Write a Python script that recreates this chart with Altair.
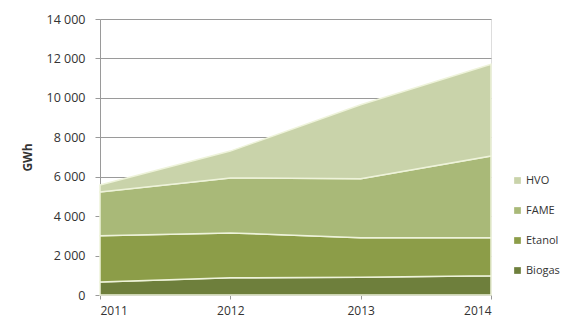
import altair as alt
import pandas as pd

years = [2011, 2012, 2013, 2014]
series = ["Biogas", "Etanol", "FAME", "HVO"]
biogas = [660, 870, 900, 980]
etanol = [2340, 2280, 2000, 1920]
fame = [2230, 2790, 3000, 4150]
hvo = [350, 1360, 3750, 4650]

values = {"Biogas": biogas, "Etanol": etanol, "FAME": fame, "HVO": hvo}
rows = []
for i, s in enumerate(series):
    for y, v in zip(years, values[s]):
        rows.append({"year": y, "type": s, "value": v, "ord": i})
df = pd.DataFrame(rows)

legend_order = ["HVO", "FAME", "Etanol", "Biogas"]
colors = ["#c9d3aa", "#a9b978", "#8c9d48", "#6e7f3c"]

font = "Open Sans"

chart = alt.Chart(df).mark_area(
    stroke="#eef3da", strokeWidth=1.5, opacity=1
).encode(
    x=alt.X("year:Q", scale=alt.Scale(domain=[2011, 2014], nice=False, zero=False),
            axis=alt.Axis(values=years, format="d", title=None, grid=False,
                          labelFontSize=12, labelColor="#333", labelFont=font,
                          tickSize=4, tickColor="#999", domainColor="#999",
                          labelPadding=6)),
    y=alt.Y("value:Q", stack="zero",
            scale=alt.Scale(domain=[0, 14000], nice=False),
            axis=alt.Axis(values=list(range(0, 14001, 2000)), title="GWh",
                          labelExpr="replace(format(datum.value, ','), ',', ' ')",
                          labelFontSize=12.5, labelColor="#333", labelFont=font,
                          titleFontSize=12, titleFont=font, titleFontWeight="bold",
                          titleColor="#333", titlePadding=12,
                          gridColor="#9a9a9a", gridWidth=1,
                          tickSize=5, tickColor="#9a9a9a", domainColor="#9a9a9a",
                          labelPadding=10)),
    color=alt.Color("type:N", scale=alt.Scale(domain=legend_order, range=colors),
                    legend=alt.Legend(title=None, orient="none", legendX=412, legendY=156,
                                      symbolType="square", symbolSize=45,
                                      symbolStrokeWidth=0,
                                      labelFontSize=11, labelFont=font, labelColor="#333",
                                      rowPadding=18, labelOffset=3)),
    order=alt.Order("ord:Q", sort="ascending"),
).properties(
    width=391, height=276,
    autosize=alt.AutoSizeParams(type="none"),
    padding={"left": 92, "top": 11, "right": 70, "bottom": 28},
).configure_view(stroke=None).configure(background="white")

chart.save("out.html", embed_options={"renderer": "svg", "actions": False})
